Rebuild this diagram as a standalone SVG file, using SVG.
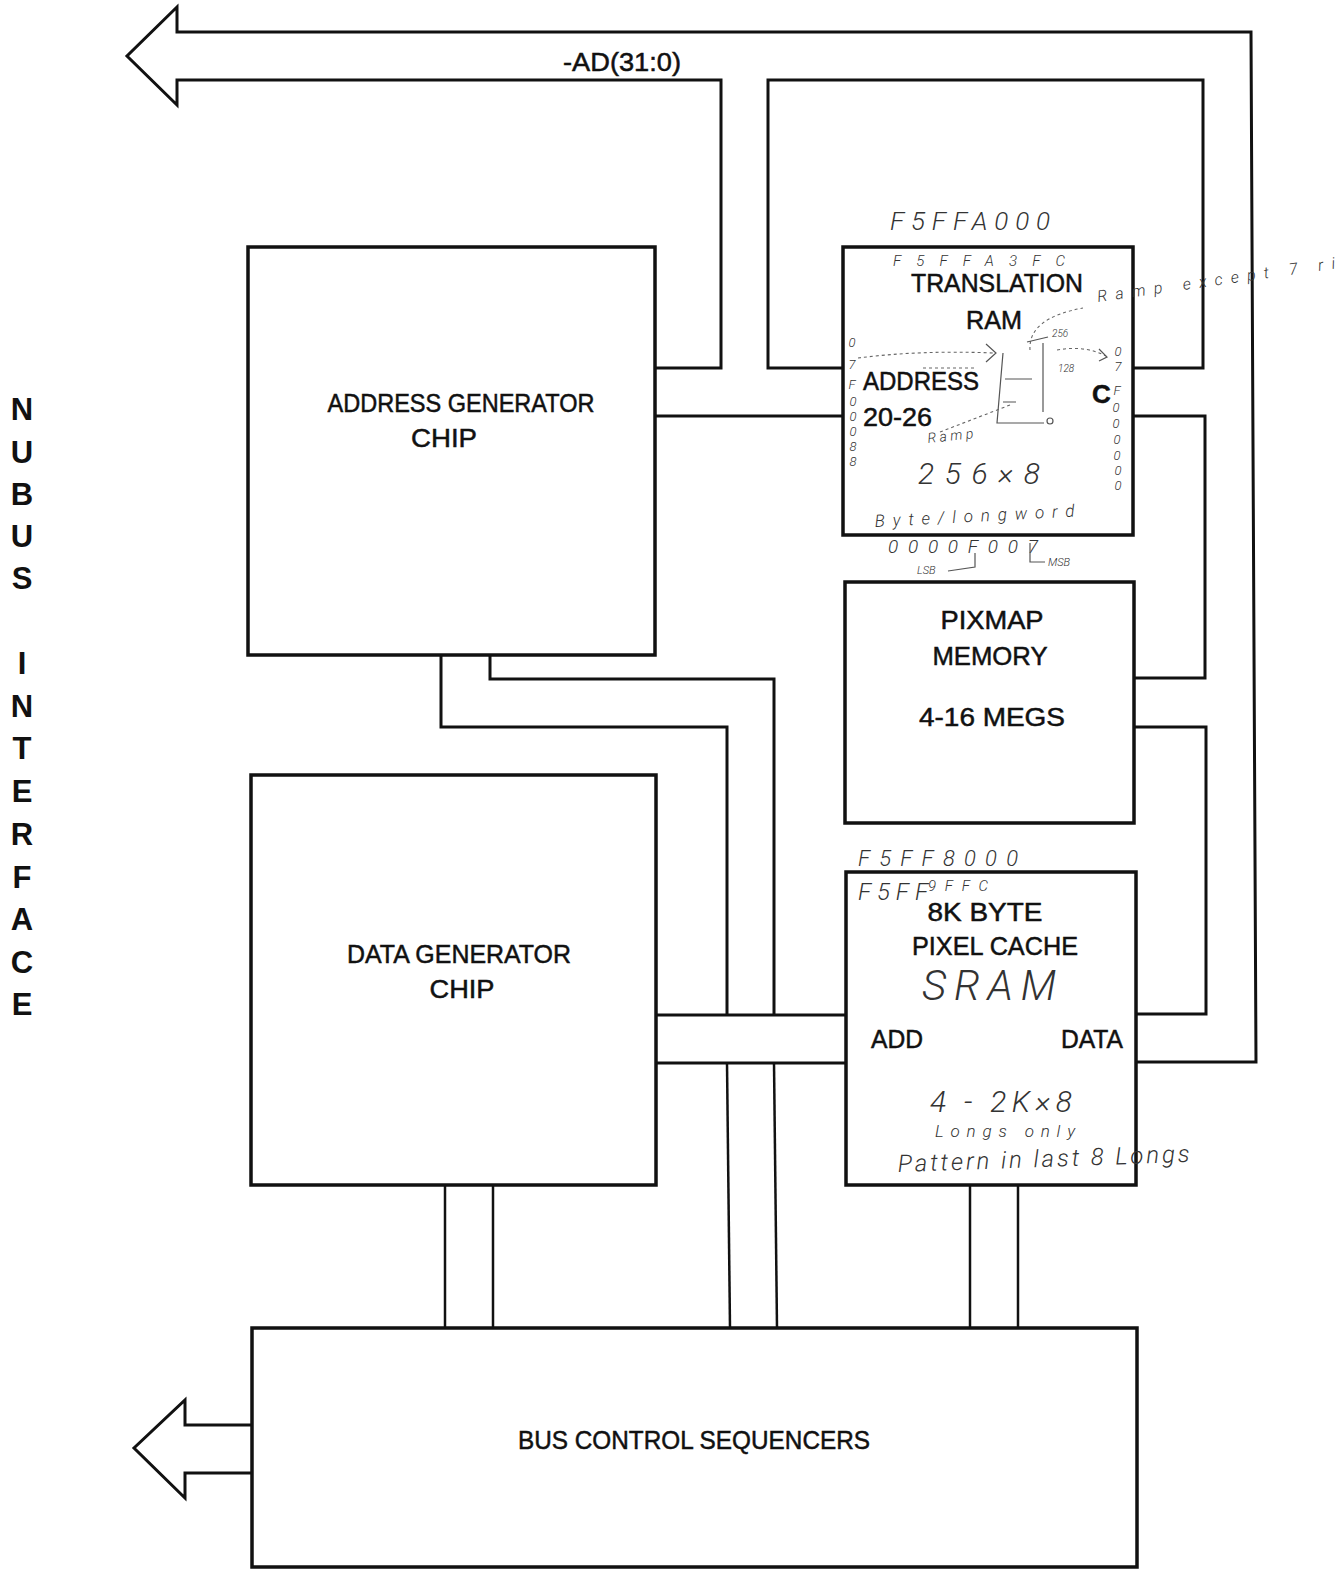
<svg xmlns="http://www.w3.org/2000/svg" width="1338" height="1569" viewBox="0 0 1338 1569">
<style>
.bx{fill:none;stroke:#111;stroke-width:3.5}
.ln{fill:none;stroke:#111;stroke-width:3;stroke-linejoin:miter}
.thin{fill:none;stroke:#111;stroke-width:2.5}
.lbl{font-family:"Liberation Sans",Arial,sans-serif;font-size:26px;fill:#111;stroke:#111;stroke-width:0.5;text-anchor:middle}
.lbs{font-family:"Liberation Sans",Arial,sans-serif;font-size:26px;fill:#111;stroke:#111;stroke-width:0.5}
.nb{font-family:"Liberation Sans",Arial,sans-serif;font-weight:bold;font-size:31px;fill:#111;text-anchor:middle}
.hw{font-family:Roboto,"Liberation Sans",sans-serif;font-style:italic;font-weight:300;fill:#333}
.sk{fill:none;stroke:#555;stroke-width:1.2}
.skd{fill:none;stroke:#666;stroke-width:1.1;stroke-dasharray:3 3}
</style>
<rect width="1338" height="1569" fill="#fff"/>

<g id="connectors">
  <path class="ln" d="M655,368 H721 V80 H177 V105 L127,56 L177,7 V32 H1251 L1256,1062 H1136"/>
  <path class="ln" d="M655,416 H843"/>
  <path class="ln" d="M843,368 H768 V80 H1203 V368 H1133"/>
  <path class="ln" d="M1133,416 H1205 V678 H1134"/>
  <path class="ln" d="M1134,727 H1206 V1014 H1136"/>
  <path class="ln" d="M656,1015 H846"/>
  <path class="ln" d="M656,1063 H846"/>
  <path class="ln" d="M441,655 V727 H727 V1015"/>
  <path class="ln" d="M490,655 V679 H774 V1015"/>
  <path class="thin" d="M727,1063 L730,1328"/>
  <path class="thin" d="M774,1063 L777,1328"/>
  <path class="thin" d="M445,1185 V1328"/>
  <path class="thin" d="M493,1185 V1328"/>
  <path class="thin" d="M970,1185 V1328"/>
  <path class="thin" d="M1018,1185 V1328"/>
  <path class="ln" d="M252,1425 H185 V1400 L134,1448 L185,1498 V1473 H252"/>
  <text class="lbl" x="622" y="71" font-size="25" textLength="118" lengthAdjust="spacingAndGlyphs">-AD(31:0)</text>
</g>

<g id="nubus-interface">
  <text class="nb" x="22" y="420">N</text>
  <text class="nb" x="22" y="463">U</text>
  <text class="nb" x="22" y="505">B</text>
  <text class="nb" x="22" y="547">U</text>
  <text class="nb" x="22" y="589">S</text>
  <text class="nb" x="22" y="674">I</text>
  <text class="nb" x="22" y="717">N</text>
  <text class="nb" x="22" y="759">T</text>
  <text class="nb" x="22" y="802">E</text>
  <text class="nb" x="22" y="845">R</text>
  <text class="nb" x="22" y="888">F</text>
  <text class="nb" x="22" y="930">A</text>
  <text class="nb" x="22" y="973">C</text>
  <text class="nb" x="22" y="1015">E</text>
</g>

<g id="address-generator">
  <rect class="bx" x="248" y="247" width="407" height="408"/>
  <text class="lbl" x="461" y="412" textLength="267" lengthAdjust="spacingAndGlyphs">ADDRESS GENERATOR</text>
  <text class="lbl" x="444" y="447" textLength="66" lengthAdjust="spacingAndGlyphs">CHIP</text>
</g>

<g id="translation-ram">
  <rect class="bx" x="843" y="247" width="290" height="288"/>
  <text class="lbl" x="997" y="292" textLength="172" lengthAdjust="spacingAndGlyphs">TRANSLATION</text>
  <text class="lbl" x="994" y="329" textLength="56" lengthAdjust="spacingAndGlyphs">RAM</text>
  <text class="lbs" x="863" y="390" textLength="116" lengthAdjust="spacingAndGlyphs">ADDRESS</text>
  <text class="lbs" x="863" y="426" textLength="69" lengthAdjust="spacingAndGlyphs">20-26</text>
  <text class="lbs" x="1092" y="403" font-weight="bold">C</text>
</g>

<g id="pixmap-memory">
  <rect class="bx" x="845" y="582" width="289" height="241"/>
  <text class="lbl" x="992" y="629" textLength="103" lengthAdjust="spacingAndGlyphs">PIXMAP</text>
  <text class="lbl" x="990" y="665" textLength="115" lengthAdjust="spacingAndGlyphs">MEMORY</text>
  <text class="lbl" x="992" y="726" textLength="146" lengthAdjust="spacingAndGlyphs">4-16 MEGS</text>
</g>

<g id="data-generator">
  <rect class="bx" x="251" y="775" width="405" height="410"/>
  <text class="lbl" x="459" y="963" textLength="224" lengthAdjust="spacingAndGlyphs">DATA GENERATOR</text>
  <text class="lbl" x="462" y="998" textLength="65" lengthAdjust="spacingAndGlyphs">CHIP</text>
</g>

<g id="pixel-cache">
  <rect class="bx" x="846" y="872" width="290" height="313"/>
  <text class="lbl" x="985" y="921" textLength="115" lengthAdjust="spacingAndGlyphs">8K BYTE</text>
  <text class="lbl" x="995" y="955" textLength="166" lengthAdjust="spacingAndGlyphs">PIXEL CACHE</text>
  <text class="lbs" x="871" y="1048" textLength="52" lengthAdjust="spacingAndGlyphs">ADD</text>
  <text class="lbs" x="1061" y="1048" textLength="62" lengthAdjust="spacingAndGlyphs">DATA</text>
</g>

<g id="bus-control-sequencers">
  <rect class="bx" x="252" y="1328" width="885" height="239"/>
  <text class="lbl" x="694" y="1449" textLength="352" lengthAdjust="spacingAndGlyphs">BUS CONTROL SEQUENCERS</text>
</g>

<g id="annotations">
  <text class="hw" x="890" y="230" font-size="26" textLength="160" lengthAdjust="spacing">F5FFA000</text>
  <text class="hw" x="893" y="266" font-size="15" textLength="172" lengthAdjust="spacing">F5FFA3FC</text>
  <text class="hw" x="1098" y="302" font-size="16" fill="#777" textLength="240" lengthAdjust="spacing" transform="rotate(-8 1098 302)">Ramp except 7 ri</text>
  <text class="hw" font-size="13" text-anchor="middle"><tspan x="852" y="347">0</tspan><tspan x="852" y="369">7</tspan><tspan x="852" y="389">F</tspan><tspan x="853" y="406">0</tspan><tspan x="853" y="421">0</tspan><tspan x="853" y="436">0</tspan><tspan x="853" y="451">8</tspan><tspan x="853" y="466">8</tspan></text>
  <text class="hw" font-size="13" text-anchor="middle"><tspan x="1118" y="356">0</tspan><tspan x="1118" y="371">7</tspan><tspan x="1117" y="395">F</tspan><tspan x="1116" y="412">0</tspan><tspan x="1116" y="428">0</tspan><tspan x="1117" y="444">0</tspan><tspan x="1117" y="460">0</tspan><tspan x="1118" y="475">0</tspan><tspan x="1118" y="490">0</tspan></text>
  <text class="hw" x="928" y="443" font-size="14" fill="#666" textLength="46" lengthAdjust="spacing" transform="rotate(-6 928 443)">Ramp</text>
  <text class="hw" x="918" y="484" font-size="30" textLength="122" lengthAdjust="spacing">256×8</text>
  <text class="hw" x="875" y="527" font-size="17" fill="#555" textLength="200" lengthAdjust="spacing" transform="rotate(-3 875 527)">Byte/longword</text>
  <text class="hw" x="888" y="553" font-size="19" textLength="150" lengthAdjust="spacing">0000F007</text>
  <text class="hw" x="917" y="574" font-size="11">LSB</text>
  <path class="sk" d="M948,571 L975,567 V553"/>
  <path class="sk" d="M1030,543 V562 H1045"/>
  <text class="hw" x="1048" y="566" font-size="11">MSB</text>
  <text class="hw" x="1052" y="337" font-size="10">256</text>
  <text class="hw" x="1058" y="372" font-size="10">128</text>
  <path class="skd" d="M858,358 Q920,350 993,353"/>
  <path class="sk" d="M986,344 L996,353 L986,362"/>
  <path class="skd" d="M923,368 H977"/>
  <path class="sk" d="M1003,353 L997,423 H1044"/>
  <circle class="sk" cx="1050" cy="421" r="3"/>
  <path class="sk" d="M1005,379 H1032 M1003,402 H1016"/>
  <path class="sk" d="M1043,343 L1043,412"/>
  <path class="skd" d="M1030,350 Q1028,318 1083,308"/>
  <path class="sk" d="M1027,342 L1048,337"/>
  <path class="skd" d="M1057,350 Q1085,345 1106,356"/>
  <path class="sk" d="M1099,349 L1107,357 L1099,361"/>
  <path class="skd" d="M940,432 L1010,405"/>
  <text class="hw" x="858" y="866" font-size="22" textLength="160" lengthAdjust="spacing">F5FF8000</text>
  <text class="hw" x="858" y="900" font-size="24" textLength="70" lengthAdjust="spacing">F5FF</text>
  <text class="hw" x="928" y="891" font-size="15" textLength="60" lengthAdjust="spacing">9FFC</text>
  <text class="hw" x="922" y="1000" font-size="42" textLength="134" lengthAdjust="spacing">SRAM</text>
  <text class="hw" x="930" y="1112" font-size="30" textLength="142" lengthAdjust="spacing">4 - 2K×8</text>
  <text class="hw" x="935" y="1137" font-size="17" textLength="140" lengthAdjust="spacing">Longs only</text>
  <text class="hw" x="898" y="1172" font-size="24" textLength="292" lengthAdjust="spacing" transform="rotate(-2 898 1172)">Pattern in last 8 Longs</text>
</g>
</svg>
